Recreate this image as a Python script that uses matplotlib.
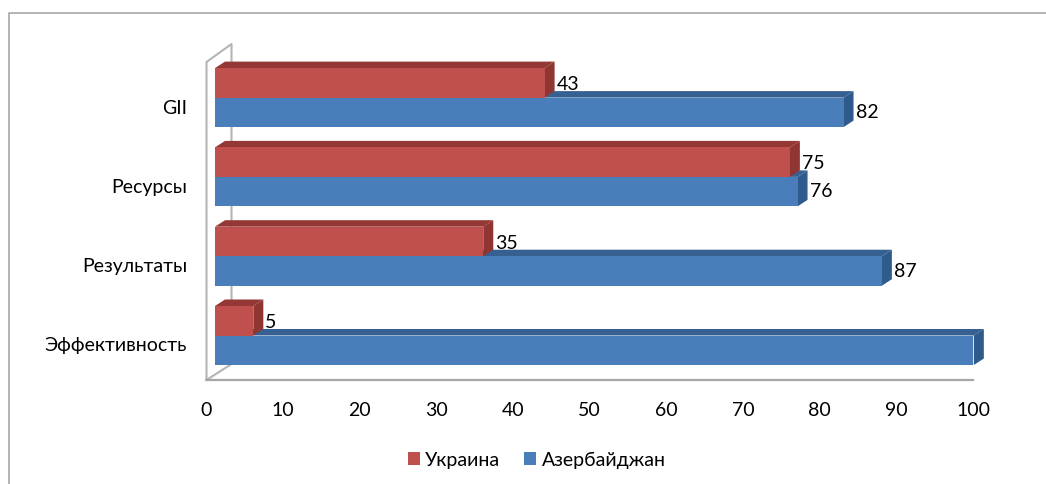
import matplotlib
matplotlib.use("Agg")
import matplotlib.pyplot as plt
from matplotlib.lines import Line2D
from matplotlib.patches import Polygon
from matplotlib.transforms import ScaledTranslation

categories = ["Эффективность", "Результаты", "Ресурсы", "GII"]
ukraine = [5, 35, 75, 43]
azerbaijan = [99, 87, 76, 82]
xticks = [0, 10, 20, 30, 40, 50, 60, 70, 80, 90, 100]

W, H = 1046, 485
plt.rcParams["font.family"] = ["Lato", "Open Sans", "DejaVu Sans"]
FS = 14

# размеры в пикселях исходной картинки
AX_L, AX_R, AX_T, AX_B = 206.5, 973, 63, 381
PX_X = (AX_R - AX_L) / 100
PX_Y = 79.3
BAR_H = 29.5 / PX_Y
SHIFT = 8.5 / PX_X
DX = 10 / PX_X
DY = 6.5 / PX_Y

fig = plt.figure(figsize=(W / 100, H / 100), dpi=100)
ax = fig.add_axes([AX_L / W, 1 - AX_B / H, (AX_R - AX_L) / W, (AX_B - AX_T) / H])
ax.set_xlim(0, 100)
ax.set_ylim(-44.5 / PX_Y, (336.5 - AX_T) / PX_Y)
ax.patch.set_visible(False)

for s in ["top", "right", "left"]:
    ax.spines[s].set_visible(False)
ax.spines["bottom"].set_color("#a6a6a6")
ax.spines["bottom"].set_linewidth(1.6)


def bars3d(pos, values, front, top, side, label, z):
    bars = ax.barh(pos, values, height=BAR_H, left=SHIFT, color=front,
                   align="edge", label=label, zorder=z + 0.2)
    for y, v in zip(pos, values):
        x0, x1 = SHIFT, SHIFT + v
        y1 = y + BAR_H
        ax.add_patch(Polygon([(x0, y1), (x0 + DX, y1 + DY), (x1 + DX, y1 + DY), (x1, y1)],
                             facecolor=top, edgecolor="none", zorder=z, clip_on=False))
        ax.add_patch(Polygon([(x1, y), (x1 + DX, y + DY), (x1 + DX, y1 + DY), (x1, y1)],
                             facecolor=side, edgecolor="none", zorder=z, clip_on=False))
    return bars


pos = list(range(len(categories)))
blue_pos = [p - BAR_H for p in pos]
h_blue = bars3d(blue_pos, azerbaijan, "#4a7ebb", "#376092", "#2f5b8c", "Азербайджан", 3)
h_red = bars3d(pos, ukraine, "#c0504d", "#953735", "#8f3532", "Украина", 4)

for p, v in zip(pos, ukraine):
    ax.annotate(str(v), (SHIFT + v, p), xytext=(12, 14), textcoords="offset pixels",
                ha="left", va="center", fontsize=FS, color="black", zorder=6)
for p, v in zip(pos, azerbaijan):
    ax.annotate(str(v), (SHIFT + v, p), xytext=(12, -14), textcoords="offset pixels",
                ha="left", va="center", fontsize=FS, color="black", zorder=6)

# боковая стенка
ymin, ymax = ax.get_ylim()
wall_x = 25 / PX_X
wall_c = "#b5b5b5"
ax.plot([0, 0, wall_x, wall_x, 0], [ymin, ymax, ymax + 18 / PX_Y, ymin + 16 / PX_Y, ymin],
        color=wall_c, lw=1.5, clip_on=False, zorder=1)

ax.set_xticks(xticks)
ax.tick_params(axis="x", length=0, pad=15, labelsize=FS)
ax.set_yticks(pos)
ax.set_yticklabels(categories)
ax.tick_params(axis="y", length=0, pad=14, labelsize=FS)
# подписи категорий в оригинале чуть ниже центра групп
down = ScaledTranslation(0, -8 / 100, fig.dpi_scale_trans)
for t in ax.get_yticklabels():
    t.set_transform(t.get_transform() + down)

fig.legend(handles=[h_red, h_blue], loc="lower left", bbox_to_anchor=(404 / W, 1 - 473 / H),
           ncol=2, frameon=False, fontsize=FS, handlelength=0.62, handleheight=0.62,
           handletextpad=0.26, columnspacing=1.25, borderpad=0.2, borderaxespad=0)

# рамка области диаграммы
frame_c = "#a0a0a0"
fig.add_artist(Line2D([8.5 / W, 8.5 / W, 1], [0, 1 - 13.5 / H, 1 - 13.5 / H],
                      color=frame_c, lw=1.1))

fig.savefig("out.png", dpi=100)
